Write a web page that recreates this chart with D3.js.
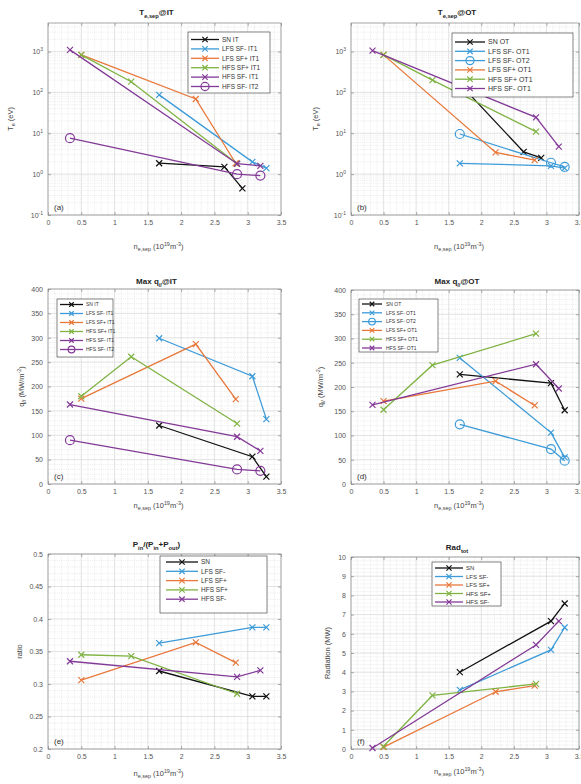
<!DOCTYPE html>
<html>
<head>
<meta charset="utf-8">
<script src="https://cdn.jsdelivr.net/npm/d3@7"></script>
<style>
  body { margin: 0; background: #fff; }
  svg { display: block; }
  text { font-family: "Liberation Sans", Arial, sans-serif; }
</style>
</head>
<body>
<svg id="fig" width="581" height="784"></svg>
<script>
// ---- separatrix density (10^19 m^-3) for each configuration ----
const nSN_T  = [1.67, 2.65, 2.92];   // SN points in the temperature panels
const nSN    = [1.67, 3.07, 3.28];
const nLFSm  = [1.67, 3.07, 3.28];
const nLFSp  = [0.50, 2.22, 2.82];
const nHFSp  = [0.50, 1.25, 2.84];
const nHFSm  = [0.33, 2.84, 3.19];

// ---- (a) separatrix temperature at the inner target (eV) ----
const teIT_SN    = [1.85, 1.5, 0.45];
const teIT_LFSm1 = [87, 2.0, 1.4];
const teIT_LFSp1 = [830, 69, 1.85];
const teIT_HFSp1 = [830, 183, 1.8];
const teIT_HFSm1 = [1100, 1.8, 1.6];
const teIT_HFSm2 = [7.6, 1.0, 0.92];

// ---- (b) separatrix temperature at the outer target (eV) ----
const teOT_SN    = [162, 3.5, 2.5];
const teOT_LFSm1 = [1.84, 1.6, 1.4];
const teOT_LFSm2 = [9.6, 1.9, 1.5];
const teOT_LFSp1 = [830, 3.4, 2.2];
const teOT_HFSp1 = [830, 200, 11];
const teOT_HFSm1 = [1050, 24.5, 4.7];

// ---- (c) peak parallel heat flux at the inner target (MW/m^2) ----
const qIT_SN    = [120, 56, 15];
const qIT_LFSm1 = [299, 221, 133];
const qIT_LFSp1 = [175, 287, 174];
const qIT_HFSp1 = [180, 261, 124];
const qIT_HFSm1 = [163, 97, 68];
const qIT_HFSm2 = [90, 30, 27];

// ---- (d) peak parallel heat flux at the outer target (MW/m^2) ----
const qOT_SN    = [226, 208, 152];
const qOT_LFSm1 = [260, 106, 55];
const qOT_LFSm2 = [123, 72, 48];
const qOT_LFSp1 = [171, 212, 162];
const qOT_HFSp1 = [153, 245, 310];
const qOT_HFSm1 = [163, 247, 197];

// ---- (e) inner power fraction P_in/(P_in+P_out) ----
const ratio_SN   = [0.320, 0.281, 0.281];
const ratio_LFSm = [0.363, 0.387, 0.387];
const ratio_LFSp = [0.306, 0.364, 0.333];
const ratio_HFSp = [0.345, 0.343, 0.285];
const ratio_HFSm = [0.335, 0.311, 0.321];

// ---- (f) total radiated power (MW) ----
const rad_SN   = [4.0, 6.66, 7.58];
const rad_LFSm = [3.08, 5.16, 6.33];
const rad_LFSp = [0.10, 2.98, 3.30];
const rad_HFSp = [0.14, 2.79, 3.39];
const rad_HFSm = [0.05, 5.42, 6.66];

// ---- axis ticks ----
const xTicks = [0, 0.5, 1, 1.5, 2, 2.5, 3, 3.5];
const logTicks = [0.1, 1, 10, 100, 1000];
const qTicks = [0, 50, 100, 150, 200, 250, 300, 350, 400];
const ratioTicks = [0.2, 0.25, 0.3, 0.35, 0.4, 0.45, 0.5];
const radTicks = [0, 1, 2, 3, 4, 5, 6, 7, 8, 9, 10];

const COLOR = {
  SN:   '#111111',
  LFSm: '#3c9bd8',
  LFSp: '#e8773a',
  HFSp: '#7fb343',
  HFSm: '#833a97'
};

const svg = d3.select('#fig');
const zip = (xs, ys) => xs.map((v, i) => [v, ys[i]]);

// text with sub/superscript runs
function rich(sel, parts, fs) {
  let off = 0;
  parts.forEach(p => {
    const target = p.sub ? fs * 0.32 : (p.sup ? -fs * 0.42 : 0);
    sel.append('tspan')
      .attr('dy', target - off)
      .attr('font-size', (p.sub || p.sup) ? fs * 0.72 : fs)
      .text(p.t);
    off = target;
  });
}

const xLabelParts = [{t: 'n'}, {t: 'e,sep', sub: true}, {t: ' (10'}, {t: '19', sup: true}, {t: 'm'}, {t: '-3', sup: true}, {t: ')'}];

function drawPanel(p) {
  const g = svg.append('g');
  const x = d3.scaleLinear().domain([0, 3.5]).range([p.x0, p.x1]);
  const y = (p.log ? d3.scaleLog() : d3.scaleLinear()).domain(p.yDomain).range([p.y1, p.y0]);

  // minor grid
  const xMinor = d3.range(1, 35).map(i => i / 10);
  const yMinor = p.log ? y.ticks() : d3.range(p.yDomain[0], p.yDomain[1] + 1e-9, p.yMinorStep);
  const grid = g.append('g');
  grid.selectAll('.xm').data(xMinor).join('line')
    .attr('x1', d => x(d)).attr('x2', d => x(d)).attr('y1', p.y0).attr('y2', p.y1)
    .attr('stroke', '#e2e2e2').attr('stroke-width', 0.6).attr('stroke-dasharray', '1.2,1');
  grid.selectAll('.ym').data(yMinor).join('line')
    .attr('y1', d => y(d)).attr('y2', d => y(d)).attr('x1', p.x0).attr('x2', p.x1)
    .attr('stroke', '#e2e2e2').attr('stroke-width', 0.6).attr('stroke-dasharray', '1.2,1');
  // major grid
  grid.selectAll('.xM').data(xTicks).join('line')
    .attr('x1', d => x(d)).attr('x2', d => x(d)).attr('y1', p.y0).attr('y2', p.y1)
    .attr('stroke', '#d6d6d6').attr('stroke-width', 0.6);
  grid.selectAll('.yM').data(p.yTicks).join('line')
    .attr('y1', d => y(d)).attr('y2', d => y(d)).attr('x1', p.x0).attr('x2', p.x1)
    .attr('stroke', '#d6d6d6').attr('stroke-width', 0.6);

  // axes (ticks pointing inward, box on)
  const styleAxis = a => {
    a.select('.domain').remove();
    a.selectAll('.tick line').attr('stroke', '#777').attr('stroke-width', 0.6);
    a.selectAll('.tick text').attr('fill', '#555').attr('font-size', 7)
      .attr('font-family', '"Liberation Sans", Arial, sans-serif');
  };
  g.append('g').attr('transform', `translate(0,${p.y1})`)
    .call(d3.axisBottom(x).tickValues(xTicks).tickSize(-3).tickPadding(5).tickFormat(d3.format('~g')))
    .call(styleAxis);
  g.append('g').attr('transform', `translate(0,${p.y0})`)
    .call(d3.axisTop(x).tickValues(xTicks).tickSize(-3).tickFormat(''))
    .call(styleAxis);
  const left = g.append('g').attr('transform', `translate(${p.x0},0)`)
    .call(d3.axisLeft(y).tickValues(p.yTicks).tickSize(-3).tickPadding(5)
      .tickFormat(p.log ? () => '' : d3.format('~g')))
    .call(styleAxis);
  if (p.log) {
    left.selectAll('.tick text').each(function (d) {
      const t = d3.select(this);
      t.append('tspan').text('10');
      t.append('tspan').attr('dy', -3).attr('font-size', 5).text(Math.round(Math.log10(d)));
    });
  }
  g.append('g').attr('transform', `translate(${p.x1},0)`)
    .call(d3.axisRight(y).tickValues(p.yTicks).tickSize(-3).tickFormat(''))
    .call(styleAxis);

  g.append('rect').attr('x', p.x0).attr('y', p.y0)
    .attr('width', p.x1 - p.x0).attr('height', p.y1 - p.y0)
    .attr('fill', 'none').attr('stroke', '#8a8a8a').attr('stroke-width', 0.7);

  // series
  const line = d3.line().x(d => x(d[0])).y(d => y(d[1]));
  p.series.forEach(s => {
    const pts = zip(s.n, s.v);
    const sg = g.append('g');
    sg.append('path').datum(pts).attr('d', line)
      .attr('fill', 'none').attr('stroke', COLOR[s.c]).attr('stroke-width', 1.3);
    drawMarkers(sg, pts.map(d => [x(d[0]), y(d[1])]), s.m, COLOR[s.c]);
  });

  // panel tag
  g.append('text').attr('x', p.x0 + 6).attr('y', p.y1 - 5)
    .attr('font-size', 8).attr('fill', '#333').text(p.tag);

  // title
  const tt = g.append('text').attr('x', (p.x0 + p.x1) / 2 - 8).attr('y', p.y0 - p.titleGap)
    .attr('text-anchor', 'middle').attr('font-size', 8).attr('font-weight', 'bold').attr('fill', '#222');
  rich(tt, p.title, 8);

  // x label
  const xl = g.append('text').attr('x', (p.x0 + p.x1) / 2 - 6).attr('y', p.xLabelY)
    .attr('text-anchor', 'middle').attr('fill', '#444');
  rich(xl, xLabelParts, 7.5);

  // y label
  const yl = g.append('text')
    .attr('transform', `translate(${p.yLabelX},${(p.y0 + p.y1) / 2}) rotate(-90)`)
    .attr('text-anchor', 'middle').attr('fill', '#444');
  rich(yl, p.ylabel, 7.5);

  // legend
  const L = p.legend;
  const lg = g.append('g');
  lg.append('rect').attr('x', L.x).attr('y', L.y).attr('width', L.w).attr('height', L.h)
    .attr('fill', '#fff').attr('stroke', '#333').attr('stroke-width', 0.6);
  p.series.forEach((s, i) => {
    const yy = L.y + L.top + i * L.row;
    lg.append('line').attr('x1', L.x + L.l0).attr('x2', L.x + L.l1).attr('y1', yy).attr('y2', yy)
      .attr('stroke', COLOR[s.c]).attr('stroke-width', 1.3);
    drawMarkers(lg, [[L.x + (L.l0 + L.l1) / 2, yy]], s.m, COLOR[s.c], L.ms);
    lg.append('text').attr('x', L.x + L.tx).attr('y', yy + L.fs * 0.35)
      .attr('font-size', L.fs).attr('fill', '#333').text(s.label);
  });
}

function drawMarkers(sel, pts, kind, color, scale = 1) {
  if (kind === 'o') {
    sel.selectAll(null).data(pts).join('circle')
      .attr('cx', d => d[0]).attr('cy', d => d[1]).attr('r', 4.5 * scale)
      .attr('fill', 'none').attr('stroke', color).attr('stroke-width', 1.2);
  } else {
    const h = 3 * scale;
    sel.selectAll(null).data(pts).join('path')
      .attr('d', d => `M${d[0] - h},${d[1] - h}L${d[0] + h},${d[1] + h}M${d[0] - h},${d[1] + h}L${d[0] + h},${d[1] - h}`)
      .attr('stroke', color).attr('stroke-width', 1.2).attr('fill', 'none');
  }
}

const TeLabel = [{t: 'T'}, {t: 'e', sub: true}, {t: ' (eV)'}];
const qLabel = [{t: 'q'}, {t: '//', sub: true}, {t: ' (MW/m'}, {t: '-2', sup: true}, {t: ')'}];

const legA = {x: 188, y: 32, w: 82, h: 61, top: 7.5, row: 9.4, l0: 3, l1: 31, tx: 34, fs: 6.5, ms: 0.9};
const legB = {x: 452, y: 33, w: 121, h: 64, top: 9, row: 9.3, l0: 3, l1: 33, tx: 36, fs: 7, ms: 0.9};
const legC = {x: 57, y: 299, w: 56, h: 58, top: 5.5, row: 9, l0: 3, l1: 26, tx: 29, fs: 5, ms: 0.75};
const legD = {x: 359, y: 299, w: 79, h: 53, top: 5, row: 8.8, l0: 3, l1: 23, tx: 27, fs: 5, ms: 0.75};
const legE = {x: 160, y: 556, w: 107, h: 57, top: 6, row: 9.3, l0: 6, l1: 38, tx: 41, fs: 6.5, ms: 0.9};
const legF = {x: 432, y: 562, w: 69, h: 44, top: 6, row: 8.5, l0: 3, l1: 31, tx: 34, fs: 6, ms: 0.85};

drawPanel({
  tag: '(a)', x0: 48, x1: 281, y0: 23, y1: 215, log: true, yDomain: [0.1, 5000], yTicks: logTicks,
  title: [{t: 'T'}, {t: 'e,sep', sub: true}, {t: '@IT'}], titleGap: 8, ylabel: TeLabel, yLabelX: 13, xLabelY: 249,
  legend: legA,
  series: [
    {label: 'SN IT', c: 'SN', m: 'x', n: nSN_T, v: teIT_SN},
    {label: 'LFS SF- IT1', c: 'LFSm', m: 'x', n: nLFSm, v: teIT_LFSm1},
    {label: 'LFS SF+ IT1', c: 'LFSp', m: 'x', n: nLFSp, v: teIT_LFSp1},
    {label: 'HFS SF+ IT1', c: 'HFSp', m: 'x', n: nHFSp, v: teIT_HFSp1},
    {label: 'HFS SF- IT1', c: 'HFSm', m: 'x', n: nHFSm, v: teIT_HFSm1},
    {label: 'HFS SF- IT2', c: 'HFSm', m: 'o', n: nHFSm, v: teIT_HFSm2}
  ]
});

drawPanel({
  tag: '(b)', x0: 351, x1: 579, y0: 23, y1: 215, log: true, yDomain: [0.1, 5000], yTicks: logTicks,
  title: [{t: 'T'}, {t: 'e,sep', sub: true}, {t: '@OT'}], titleGap: 8, ylabel: TeLabel, yLabelX: 318, xLabelY: 249,
  legend: legB,
  series: [
    {label: 'SN OT', c: 'SN', m: 'x', n: nSN_T, v: teOT_SN},
    {label: 'LFS SF- OT1', c: 'LFSm', m: 'x', n: nLFSm, v: teOT_LFSm1},
    {label: 'LFS SF- OT2', c: 'LFSm', m: 'o', n: nLFSm, v: teOT_LFSm2},
    {label: 'LFS SF+ OT1', c: 'LFSp', m: 'x', n: nLFSp, v: teOT_LFSp1},
    {label: 'HFS SF+ OT1', c: 'HFSp', m: 'x', n: nHFSp, v: teOT_HFSp1},
    {label: 'HFS SF- OT1', c: 'HFSm', m: 'x', n: nHFSm, v: teOT_HFSm1}
  ]
});

drawPanel({
  tag: '(c)', x0: 48, x1: 281, y0: 289, y1: 484, log: false, yDomain: [0, 400], yTicks: qTicks, yMinorStep: 10,
  title: [{t: 'Max q'}, {t: '//', sub: true}, {t: '@IT'}], titleGap: 5, ylabel: qLabel, yLabelX: 24, xLabelY: 508,
  legend: legC,
  series: [
    {label: 'SN IT', c: 'SN', m: 'x', n: nSN, v: qIT_SN},
    {label: 'LFS SF- IT1', c: 'LFSm', m: 'x', n: nLFSm, v: qIT_LFSm1},
    {label: 'LFS SF+ IT1', c: 'LFSp', m: 'x', n: nLFSp, v: qIT_LFSp1},
    {label: 'HFS SF+ IT1', c: 'HFSp', m: 'x', n: nHFSp, v: qIT_HFSp1},
    {label: 'HFS SF- IT1', c: 'HFSm', m: 'x', n: nHFSm, v: qIT_HFSm1},
    {label: 'HFS SF- IT2', c: 'HFSm', m: 'o', n: nHFSm, v: qIT_HFSm2}
  ]
});

drawPanel({
  tag: '(d)', x0: 351, x1: 579, y0: 290, y1: 484, log: false, yDomain: [0, 400], yTicks: qTicks, yMinorStep: 10,
  title: [{t: 'Max q'}, {t: '//', sub: true}, {t: '@OT'}], titleGap: 6, ylabel: qLabel, yLabelX: 323, xLabelY: 508,
  legend: legD,
  series: [
    {label: 'SN OT', c: 'SN', m: 'x', n: nSN, v: qOT_SN},
    {label: 'LFS SF- OT1', c: 'LFSm', m: 'x', n: nLFSm, v: qOT_LFSm1},
    {label: 'LFS SF- OT2', c: 'LFSm', m: 'o', n: nLFSm, v: qOT_LFSm2},
    {label: 'LFS SF+ OT1', c: 'LFSp', m: 'x', n: nLFSp, v: qOT_LFSp1},
    {label: 'HFS SF+ OT1', c: 'HFSp', m: 'x', n: nHFSp, v: qOT_HFSp1},
    {label: 'HFS SF- OT1', c: 'HFSm', m: 'x', n: nHFSm, v: qOT_HFSm1}
  ]
});

drawPanel({
  tag: '(e)', x0: 48, x1: 281, y0: 554, y1: 749, log: false, yDomain: [0.2, 0.5], yTicks: ratioTicks, yMinorStep: 0.01,
  title: [{t: 'P'}, {t: 'in', sub: true}, {t: '/(P'}, {t: 'in', sub: true}, {t: '+P'}, {t: 'out', sub: true}, {t: ')'}],
  titleGap: 7, ylabel: [{t: 'ratio'}], yLabelX: 22, xLabelY: 776,
  legend: legE,
  series: [
    {label: 'SN', c: 'SN', m: 'x', n: nSN, v: ratio_SN},
    {label: 'LFS SF-', c: 'LFSm', m: 'x', n: nLFSm, v: ratio_LFSm},
    {label: 'LFS SF+', c: 'LFSp', m: 'x', n: nLFSp, v: ratio_LFSp},
    {label: 'HFS SF+', c: 'HFSp', m: 'x', n: nHFSp, v: ratio_HFSp},
    {label: 'HFS SF-', c: 'HFSm', m: 'x', n: nHFSm, v: ratio_HFSm}
  ]
});

drawPanel({
  tag: '(f)', x0: 351, x1: 579, y0: 557, y1: 749, log: false, yDomain: [0, 10], yTicks: radTicks, yMinorStep: 0.2,
  title: [{t: 'Rad'}, {t: 'tot', sub: true}], titleGap: 7, ylabel: [{t: 'Radiation (MW)'}], yLabelX: 330, xLabelY: 774,
  legend: legF,
  series: [
    {label: 'SN', c: 'SN', m: 'x', n: nSN, v: rad_SN},
    {label: 'LFS SF-', c: 'LFSm', m: 'x', n: nLFSm, v: rad_LFSm},
    {label: 'LFS SF+', c: 'LFSp', m: 'x', n: nLFSp, v: rad_LFSp},
    {label: 'HFS SF+', c: 'HFSp', m: 'x', n: nHFSp, v: rad_HFSp},
    {label: 'HFS SF-', c: 'HFSm', m: 'x', n: nHFSm, v: rad_HFSm}
  ]
});
</script>
</body>
</html>
